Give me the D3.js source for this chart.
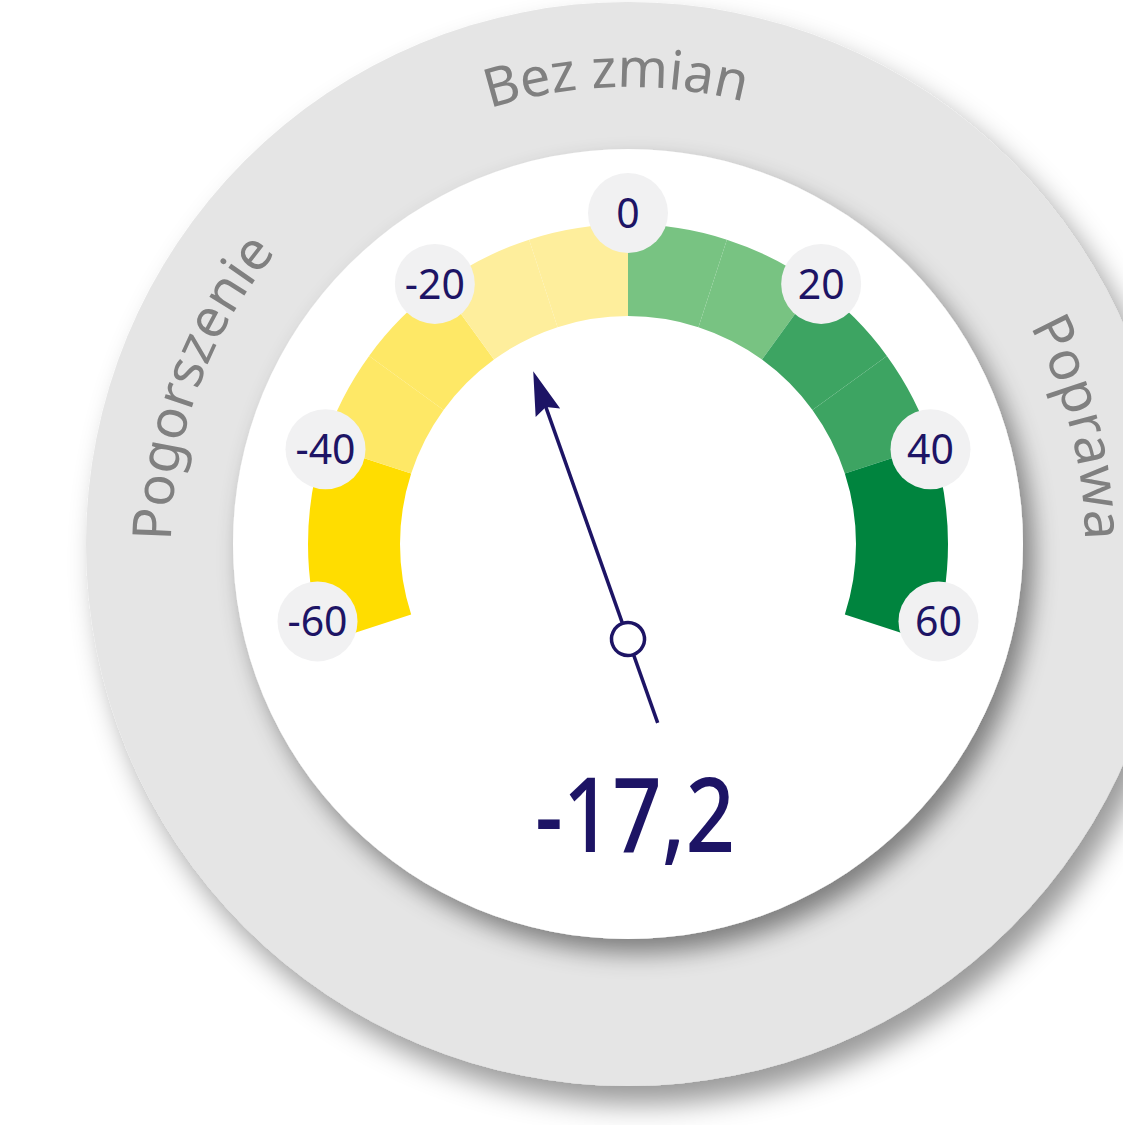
<!DOCTYPE html>
<html><head><meta charset="utf-8">
<script src="https://cdn.jsdelivr.net/npm/d3@7"></script>
<style>html,body{margin:0;padding:0;background:#fff;overflow:hidden}svg{display:block}</style>
</head><body>
<svg id="chart" width="1123" height="1125"></svg>
<script>
// ---- data ----
const segmentStarts = [-60,-50,-40,-30,-20,-10,0,10,20,30,40,50];
const segmentColors = ["#FFDD00","#FFDD00","#FEE866","#FEE866","#FEEE9C","#FEEE9C",
                       "#78C382","#78C382","#3DA462","#3DA462","#00843E","#00843E"];
const tickValues = [-60,-40,-20,0,20,40,60];
const tickLabels = ["-60","-40","-20","0","20","40","60"];
const currentValue = -17.2;
const valueLabel = "-17,2";
const ringLabels = ["Pogorszenie","Bez zmian","Poprawa"];

// ---- layout ----
const W = 1123, H = 1125, cx = 628, cy = 544;
const R_OUT = 542, R_IN = 395, ARC_O = 320, ARC_I = 228;
const navy = "#1D1465";
const svg = d3.select("#chart");
const defs = svg.append("defs");
const f1 = defs.append("filter").attr("id","sh1").attr("x","-20%").attr("y","-20%").attr("width","140%").attr("height","140%");
f1.append("feDropShadow").attr("dx",12).attr("dy",18).attr("stdDeviation",14).attr("flood-color","#000").attr("flood-opacity",0.4);
const f2 = defs.append("filter").attr("id","sh2").attr("x","-20%").attr("y","-20%").attr("width","140%").attr("height","140%");
f2.append("feDropShadow").attr("dx",10).attr("dy",14).attr("stdDeviation",12).attr("flood-color","#000").attr("flood-opacity",0.45);

const g = svg.append("g").attr("transform",`translate(${cx},${cy})`);
g.append("circle").attr("r",R_OUT).attr("fill","#E5E5E5").attr("filter","url(#sh1)");

// ring labels along circle path (starts at bottom, clockwise)
const RT = 457;
defs.append("path").attr("id","ringPath")
  .attr("d",`M${cx},${cy+RT} A${RT},${RT} 0 1 1 ${cx},${cy-RT} A${RT},${RT} 0 1 1 ${cx},${cy+RT}`);
const circ = 2*Math.PI*RT;
const ringAngles = [-70, -1.5, 75.5];
svg.selectAll("text.ring").data(ringLabels).join("text").attr("class","ring")
  .attr("font-family","'Noto Sans', 'Open Sans', sans-serif").attr("font-size",54)
  .attr("fill","#808080")
  .append("textPath").attr("href","#ringPath")
  .attr("startOffset",(d,i)=> ((ringAngles[i]+180)/360*circ))
  .attr("text-anchor","middle").text(d=>d);

g.append("circle").attr("r",R_IN).attr("fill","#fff").attr("filter","url(#sh2)");

// gauge
const angle = d3.scaleLinear().domain([-60,60]).range([-108*Math.PI/180,108*Math.PI/180]);
const arc = d3.arc().innerRadius(ARC_I).outerRadius(ARC_O);
g.selectAll("path.seg").data(segmentStarts).join("path").attr("class","seg")
  .attr("d",d=>arc({startAngle:angle(d),endAngle:angle(d+10)}))
  .attr("fill",(d,i)=>segmentColors[i]);

// tick labels
const labelAngle = d3.scaleLinear().domain([-60,-40,-20,0,20,40,60]).range([-104,-72.6,-36.6,0,36.6,72.6,104]);
const labelRad = d3.scaleLinear().domain([-60,-40,-20,0,20,40,60]).range([320,317,324,331,324,317,320]);
const tg = g.selectAll("g.tick").data(tickValues).join("g").attr("class","tick")
  .attr("transform",d=>{const a=labelAngle(d)*Math.PI/180, r=labelRad(d);return `translate(${r*Math.sin(a)},${-r*Math.cos(a)})`;});
tg.append("circle").attr("r",40).attr("fill","#F1F1F2");
tg.append("text").attr("text-anchor","middle").attr("dy","0.36em")
  .attr("font-family","'Noto Sans', 'Open Sans', sans-serif").attr("font-size",41)
  .attr("fill",navy).text((d,i)=>tickLabels[i]);

// needle
const needleRot = d3.scaleLinear().domain([-60,60]).range([-68,68]);
const pivotY = 95;
const ng = g.append("g").attr("transform",`translate(0,${pivotY}) rotate(${needleRot(currentValue)})`);
ng.append("line").attr("x1",0).attr("y1",89).attr("x2",0).attr("y2",-250)
  .attr("stroke",navy).attr("stroke-width",3.5);
ng.append("path").attr("d","M0,-284 L13,-240 L0,-246 L-13,-240 Z").attr("fill",navy);
ng.append("circle").attr("r",16.5).attr("fill","#fff").attr("stroke",navy).attr("stroke-width",3.5);

// value
g.append("text").attr("x",7).attr("y",308).attr("text-anchor","middle")
  .attr("font-family","'Noto Sans', 'Open Sans', sans-serif").attr("font-size",104).attr("font-weight",500)
  .attr("fill",navy).attr("textLength",200).attr("lengthAdjust","spacingAndGlyphs").text(valueLabel);
</script>
</body></html>
